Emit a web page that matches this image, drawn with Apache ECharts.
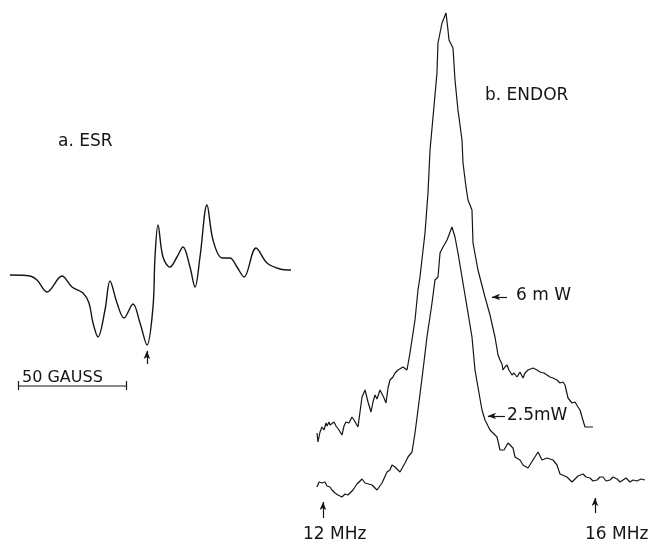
<!DOCTYPE html>
<html>
<head>
<meta charset="utf-8">
<script src="https://cdn.jsdelivr.net/npm/echarts@6/dist/echarts.min.js"></script>
<style>html,body{margin:0;padding:0;background:#fff}#c{width:648px;height:546px}</style>
</head>
<body>
<div id="c"></div>
<script>
// a. ESR derivative trace: [field (gauss), signal (arb.)]
const esrTrace = [[0,0],[9.26,-1],[12.5,-5],[17.13,-17],[24.07,-1],[28.7,-12],[33.8,-18],[36.57,-28],[38.43,-48],[40.74,-62],[43.98,-35],[46.3,-6],[49.54,-28],[52.78,-43],[56.94,-29],[60.19,-48],[63.43,-70],[66.2,-32],[67.13,18],[68.52,50],[70.83,18],[74.07,8],[77.31,18],[80.09,28],[83.33,8],[85.65,-12],[87.96,18],[91.2,70],[93.98,35],[98.15,17],[101.85,17],[105.09,8],[108.33,-2],[113.89,27],[118.98,12],[125,6],[130.09,5]];
const esrArrowField = 63.4;
const scaleBarGauss = [3.7, 53.7];   // 50 gauss
const scaleBarLevel = -111;

// b. ENDOR traces: [frequency (MHz), intensity (arb.)]
const endor6mW = [[11.912,97],[11.926,88],[11.956,98],[11.985,103],[12.015,100],[12.044,107],[12.059,104],[12.088,108],[12.103,105],[12.132,103],[12.162,108],[12.191,104],[12.206,106],[12.235,100],[12.279,95],[12.309,104],[12.338,108],[12.353,110],[12.382,107],[12.426,113],[12.456,110],[12.471,108],[12.515,103],[12.544,118],[12.574,133],[12.618,140],[12.662,128],[12.706,118],[12.735,128],[12.765,135],[12.794,131],[12.838,140],[12.868,136],[12.897,132],[12.926,127],[12.956,142],[12.985,150],[13.029,153],[13.059,157],[13.103,160],[13.132,162],[13.176,163],[13.235,160],[13.279,177],[13.353,210],[13.397,240],[13.426,253],[13.500,297],[13.544,337],[13.574,380],[13.618,413],[13.676,457],[13.691,487],[13.750,507],[13.809,517],[13.838,500],[13.853,490],[13.912,482],[13.941,450],[13.985,420],[14.044,390],[14.059,367],[14.103,343],[14.132,330],[14.191,320],[14.206,287],[14.279,260],[14.382,233],[14.456,215],[14.529,193],[14.574,175],[14.603,170],[14.632,166],[14.647,160],[14.676,163],[14.706,165],[14.735,160],[14.779,155],[14.809,157],[14.853,153],[14.897,158],[14.941,152],[14.971,157],[15.015,160],[15.044,158],[15.088,162],[15.147,160],[15.191,158],[15.250,157],[15.294,155],[15.338,153],[15.382,152],[15.441,150],[15.485,147],[15.529,148],[15.559,145],[15.603,132],[15.632,130],[15.662,127],[15.706,128],[15.750,123],[15.779,120],[15.809,113],[15.853,103],[15.897,103],[15.971,103]];
const endor2p5mW = [[11.912,43],[11.941,48],[11.956,50],[11.985,47],[12.029,48],[12.059,44],[12.103,43],[12.132,40],[12.176,37],[12.221,35],[12.279,33],[12.324,36],[12.368,35],[12.441,40],[12.500,46],[12.574,51],[12.618,47],[12.647,47],[12.721,45],[12.794,40],[12.868,47],[12.941,58],[12.985,60],[13.015,65],[13.059,63],[13.132,58],[13.206,67],[13.250,73],[13.309,78],[13.353,97],[13.397,120],[13.471,160],[13.529,193],[13.603,227],[13.647,250],[13.691,253],[13.721,277],[13.765,283],[13.824,290],[13.897,303],[13.941,293],[13.985,277],[14.044,253],[14.118,223],[14.191,193],[14.235,160],[14.338,120],[14.382,110],[14.456,100],[14.559,93],[14.603,80],[14.662,80],[14.721,87],[14.794,82],[14.824,73],[14.897,70],[14.941,65],[15.015,62],[15.088,70],[15.162,78],[15.221,70],[15.294,72],[15.382,70],[15.441,65],[15.485,56],[15.588,53],[15.662,48],[15.750,54],[15.824,56],[15.868,53],[15.926,52],[15.971,49],[16.029,50],[16.074,53],[16.118,53],[16.162,49],[16.221,50],[16.265,53],[16.324,51],[16.368,48],[16.412,50],[16.456,52],[16.515,48],[16.559,50],[16.618,49],[16.676,51],[16.735,50]];
const freqMarks = [12, 16];
const freqMarkLabels = ['12 MHz', '16 MHz'];
const powerLabels = ['6 m W', '2.5mW'];

const INK = '#151515';
const FONT = '17px "DejaVu Sans", sans-serif';

const chart = echarts.init(document.getElementById('c'), null, {renderer: 'canvas'});

function arrowLine(a, b) {
  return [{coord: a}, {coord: b}];
}

const arrowMark = (data) => ({
  silent: true,
  animation: false,
  symbol: ['none', 'arrow'],
  symbolSize: [5, 8],
  label: {show: false},
  lineStyle: {color: INK, width: 1.2, type: 'solid'},
  data: data
});

const option = {
  animation: false,
  backgroundColor: '#ffffff',
  grid: [
    {left: 10, top: 180, width: 131 * 2.16, height: 220},
    {left: 299.2, top: 10, width: 346.8, height: 520}
  ],
  xAxis: [
    {gridIndex: 0, type: 'value', min: 0, max: 131, show: false},
    {gridIndex: 1, type: 'value', min: 11.65, max: 16.75, show: false}
  ],
  yAxis: [
    {gridIndex: 0, type: 'value', min: -125, max: 95, show: false},
    {gridIndex: 1, type: 'value', min: 0, max: 520, show: false}
  ],
  series: [
    {
      name: 'ESR', type: 'line', xAxisIndex: 0, yAxisIndex: 0,
      data: esrTrace, smooth: 0.35, showSymbol: false, symbol: 'none',
      lineStyle: {color: INK, width: 1.4},
      markLine: arrowMark([arrowLine([esrArrowField, -89], [esrArrowField, -76])])
    },
    {
      name: 'scale', type: 'line', xAxisIndex: 0, yAxisIndex: 0,
      data: scaleBarGauss.map(g => [g, scaleBarLevel]), showSymbol: false, symbol: 'none',
      lineStyle: {color: INK, width: 1.2},
      markLine: {
        silent: true, animation: false, symbol: ['none', 'none'], label: {show: false},
        lineStyle: {color: INK, width: 1.2, type: 'solid'},
        data: scaleBarGauss.map(g => [{coord: [g, scaleBarLevel - 4]}, {coord: [g, scaleBarLevel + 5]}])
      }
    },
    {
      name: '6 mW', type: 'line', xAxisIndex: 1, yAxisIndex: 1,
      data: endor6mW, showSymbol: false, symbol: 'none',
      lineStyle: {color: INK, width: 1.2},
      markLine: arrowMark([arrowLine([14.706, 233], [14.485, 233])])
    },
    {
      name: '2.5 mW', type: 'line', xAxisIndex: 1, yAxisIndex: 1,
      data: endor2p5mW, showSymbol: false, symbol: 'none',
      lineStyle: {color: INK, width: 1.2},
      markLine: arrowMark([
        arrowLine([14.676, 114], [14.426, 114]),
        arrowLine([freqMarks[0], 12], [freqMarks[0], 28]),
        arrowLine([freqMarks[1], 17], [freqMarks[1], 32])
      ])
    }
  ],
  graphic: [
    {type: 'text', x: 58, y: 142, style: {text: 'a. ESR', font: FONT, fill: INK, textVerticalAlign: 'middle'}},
    {type: 'text', x: 485, y: 96, style: {text: 'b. ENDOR', font: FONT, fill: INK, textVerticalAlign: 'middle'}},
    {type: 'text', x: 22, y: 378, style: {text: '50 GAUSS', font: '16px "DejaVu Sans", sans-serif', fill: INK, textVerticalAlign: 'middle'}},
    {type: 'text', x: 516, y: 296, style: {text: powerLabels[0], font: FONT, fill: INK, textVerticalAlign: 'middle'}},
    {type: 'text', x: 507, y: 416, style: {text: powerLabels[1], font: FONT, fill: INK, textVerticalAlign: 'middle'}},
    {type: 'text', x: 303, y: 535, style: {text: freqMarkLabels[0], font: FONT, fill: INK, textVerticalAlign: 'middle'}},
    {type: 'text', x: 585, y: 535, style: {text: freqMarkLabels[1], font: FONT, fill: INK, textVerticalAlign: 'middle'}}
  ]
};
chart.setOption(option);
</script>
</body>
</html>
